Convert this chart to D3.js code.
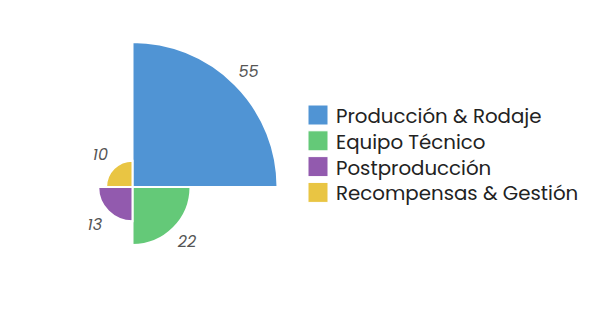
<!DOCTYPE html>
<html>
<head>
<meta charset="utf-8">
<script src="https://cdn.jsdelivr.net/npm/d3@7"></script>
<style>
  html, body { margin: 0; padding: 0; background: #fff; }
  svg { display: block; }
</style>
</head>
<body>
<svg id="chart" width="590" height="317"></svg>
<script>
// Budget split (values in %)
const categories = ["Producción & Rodaje", "Equipo Técnico", "Postproducción", "Recompensas & Gestión"];
const values = [55, 22, 13, 10];
const colors = ["#5094d4", "#64c978", "#925aae", "#e9c543"];

const svg = d3.select("#chart");
const cx = 132.5, cy = 187;
const fontFamily = "'Poppins', 'Open Sans', 'Noto Sans', sans-serif";

// Linear radial scale; each category gets an equal angular sector
const r = d3.scaleLinear().domain([0, d3.max(values)]).range([0, 145]);
const angle = d3.scaleBand().domain(categories).range([0, 2 * Math.PI]).paddingInner(0).paddingOuter(0);

const arc = d3.arc()
  .innerRadius(0)
  .outerRadius(d => r(d.value))
  .startAngle(d => angle(d.cat))
  .endAngle(d => angle(d.cat) + angle.bandwidth());

const data = categories.map((c, i) => ({ cat: c, value: values[i], color: colors[i] }));

const g = svg.append("g").attr("transform", `translate(${cx},${cy})`);

g.selectAll("path.slice")
  .data(data)
  .join("path")
  .attr("class", "slice")
  .attr("d", arc)
  .attr("fill", d => d.color)
  .attr("stroke", "#fff")
  .attr("stroke-width", 2);

// Value labels just outside each arc at the sector's mid-angle
g.selectAll("text.val")
  .data(data)
  .join("text")
  .attr("class", "val")
  .attr("x", d => Math.sin(angle(d.cat) + angle.bandwidth() / 2) * (r(d.value) + 19))
  .attr("y", d => -Math.cos(angle(d.cat) + angle.bandwidth() / 2) * (r(d.value) + 19))
  .attr("text-anchor", "middle")
  .attr("dominant-baseline", "central")
  .attr("font-family", fontFamily)
  .attr("font-style", "italic")
  .attr("font-size", 16)
  .attr("fill", "#555")
  .text(d => d.value);

// Legend
const legend = svg.append("g").attr("transform", "translate(308,105)");
const row = legend.selectAll("g.item")
  .data(data)
  .join("g")
  .attr("class", "item")
  .attr("transform", (d, i) => `translate(0,${i * 25.8})`);

row.append("rect")
  .attr("width", 20)
  .attr("height", 20)
  .attr("fill", d => d.color)
  .attr("stroke", "#fff")
  .attr("stroke-width", 1);

row.append("text")
  .attr("x", 28)
  .attr("y", 11)
  .attr("dominant-baseline", "central")
  .attr("font-family", fontFamily)
  .attr("font-size", 19.8)
  .attr("fill", "#222")
  .text(d => d.cat);
</script>
</body>
</html>
